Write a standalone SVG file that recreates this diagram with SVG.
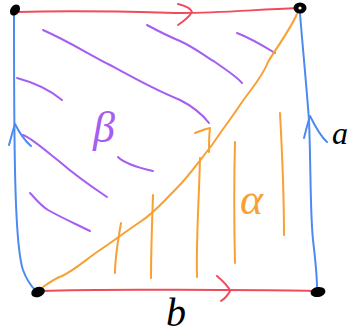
<svg xmlns="http://www.w3.org/2000/svg" width="357" height="334" viewBox="0 0 357 334">
<style>
.s{fill:none;stroke-width:2;stroke-linecap:round;stroke-linejoin:round}
.r{stroke:#f04b5b}.b{stroke:#4d8af0}.o{stroke:#f8a032}.p{stroke:#a65df0}
.dot{fill:#000;stroke:#000;stroke-width:2}
.lbl{font-family:"Liberation Serif",serif;font-style:italic}
</style>
<rect width="357" height="334" fill="#fff"/>
<g id="hatch-beta">
<path class="s p" d="M43,30 C70,42 90,55 110,65 C130,76 155,90 180,100 C192,106 202,114 209,123"/>
<path class="s p" d="M147,25 C160,32 170,37 180,41 C195,48 205,56 215,62 C226,70 236,76 242,83"/>
<path class="s p" d="M237,33 C250,38 262,45 275,53"/>
<path class="s p" d="M17,78 C32,82 50,90 62,100"/>
<path class="s p" d="M23,135 C30,137 45,150 60,162 C75,175 92,187 107,197"/>
<path class="s p" d="M118,157 C124,163 135,167 153,171"/>
<path class="s p" d="M30,193 C35,198 40,205 48,210 C62,218 76,224 90,231"/>
</g>
<g id="hatch-alpha">
<path class="s o" d="M280,113 C282,150 284,190 284,235"/>
<path class="s o" d="M235,142 C234,180 234,220 235,263"/>
<path class="s o" d="M200,158 C199,200 196,240 197,277"/>
<path class="s o" d="M153,195 C152,225 151,250 151,278"/>
<path class="s o" d="M121,223 C118,240 115,258 115,273"/>
</g>
<g id="connectors">
<path id="edge-top" class="s r" d="M18,12 C80,10 140,12 180,13 C220,13 250,10 298,8"/>
<path class="s r" d="M178,4 C186,6 191,9 192,12 C189,17 184,21 178,25"/>
<path id="edge-bottom" class="s r" d="M41,291 C100,289 160,290 220,290 C260,290 290,290 314,291"/>
<path class="s r" d="M217,276 C224,282 229,287 230,291 C228,295 224,299 221,301"/>
<path id="edge-left" class="s b" d="M14,13 C14,60 14,120 15,170 C16,220 18,255 23,270 C27,281 32,287 36,291"/>
<path class="s b" d="M9,145 C11,138 13,130 15,124 C19,132 24,140 31,146"/>
<path id="edge-right" class="s b" d="M300,13 C302,40 306,80 309,120 C311,170 310,210 313,240 C316,265 317,280 317,288"/>
<path class="s b" d="M304,138 C306,130 308,122 310,116 C314,124 320,136 327,142"/>
<path id="edge-diag" class="s o" d="M43,287 C50,282 56,278 62,276 C75,270 85,260 100,250 C115,240 125,232 140,222 C155,212 160,205 175,190 C190,175 200,160 212,145 C222,130 230,120 240,105 C250,90 262,78 268,62 C275,50 290,30 297,14"/>
<path class="s o" d="M195,133 C200,131 205,129 210,128 C209,135 209,145 209,152"/>
</g>
<g id="vertex-tl"><ellipse class="dot" cx="15" cy="10" rx="3.5" ry="5" transform="rotate(35 15 10)"/></g>
<g id="vertex-tr"><ellipse class="dot" cx="300" cy="8" rx="5.5" ry="4.5"/><circle cx="300" cy="8" r="1.6" fill="#fff"/></g>
<g id="vertex-bl"><ellipse class="dot" cx="38" cy="292" rx="6" ry="4" transform="rotate(-20 38 292)"/></g>
<g id="vertex-br"><ellipse class="dot" cx="318" cy="292" rx="6.5" ry="4" transform="rotate(-10 318 292)"/></g>
<g id="labels">
<text class="lbl" x="332" y="144" font-size="32" fill="#000">a</text>
<text class="lbl" x="166" y="326" font-size="40" fill="#000">b</text>
<text class="lbl" x="240" y="214" font-size="44" fill="#f8a032">α</text>
<text class="lbl" x="93" y="142" font-size="44" fill="#a65df0">β</text>
</g>
</svg>
